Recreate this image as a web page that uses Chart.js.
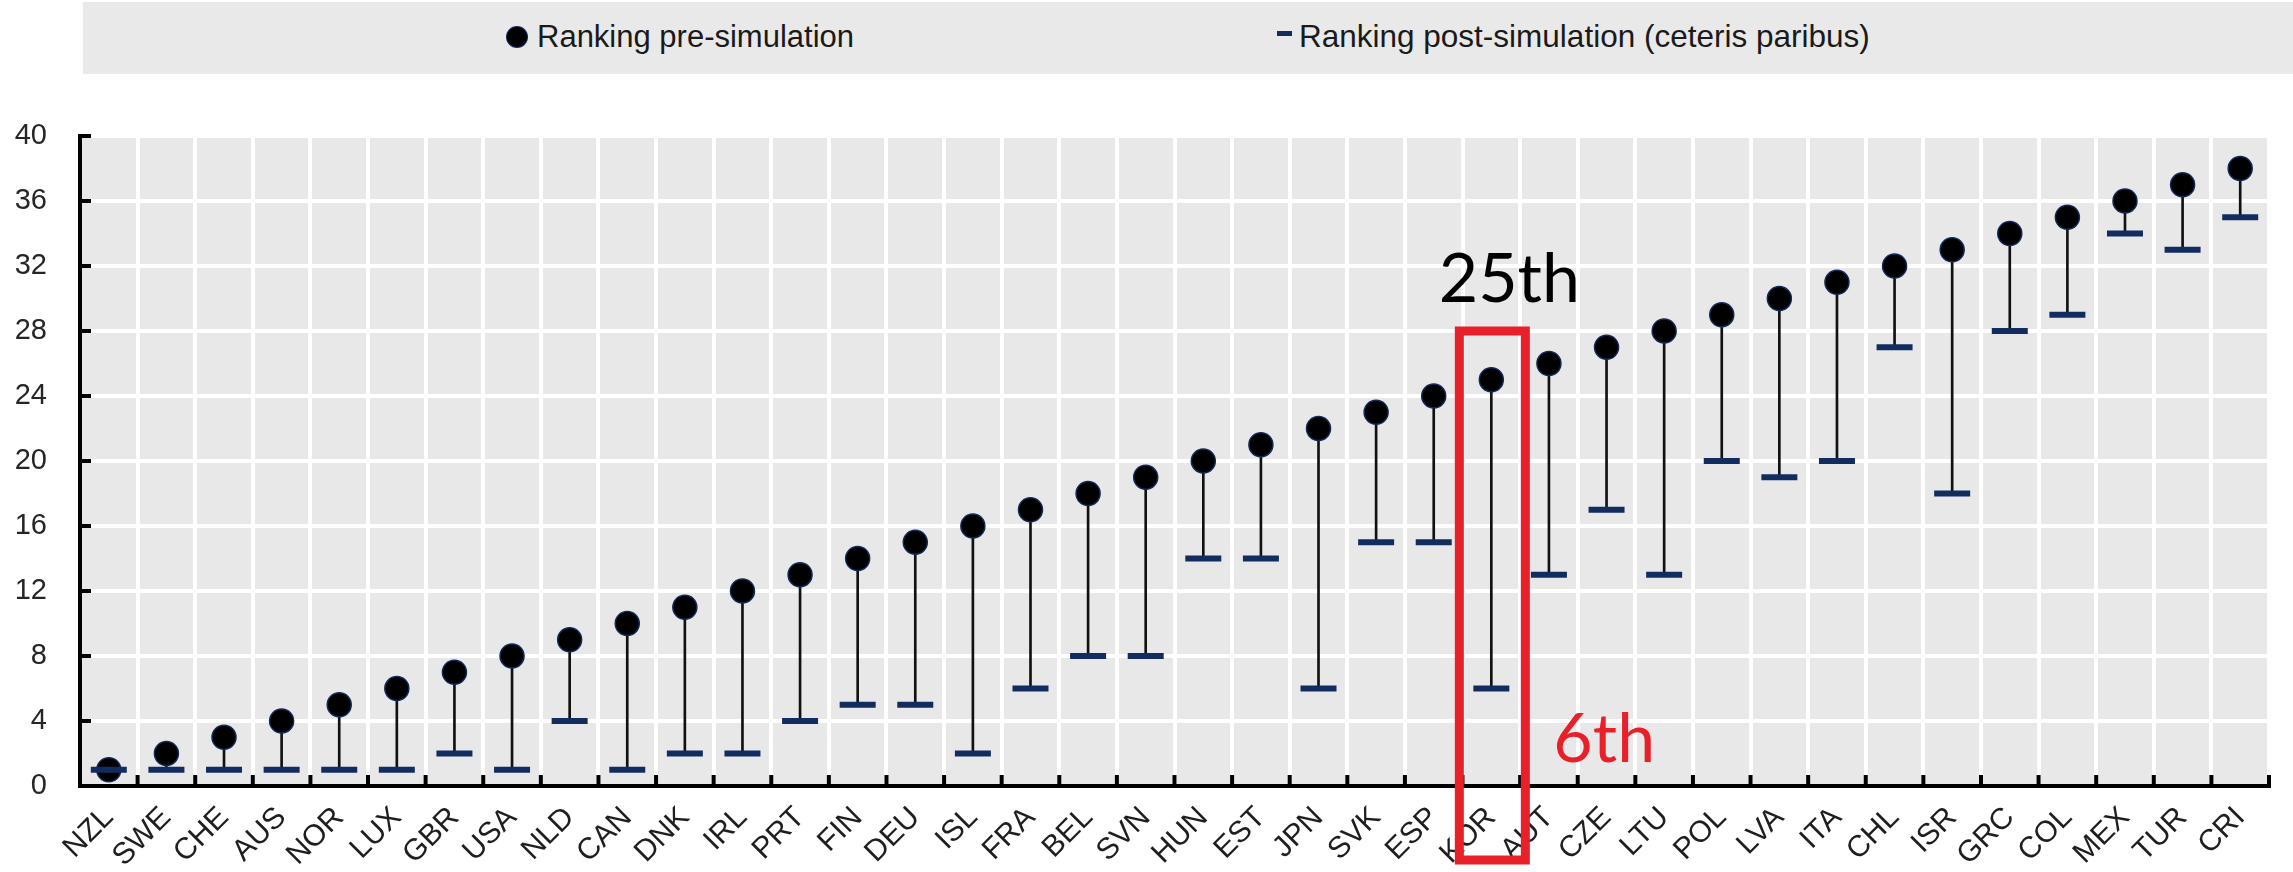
<!DOCTYPE html>
<html>
<head>
<meta charset="utf-8">
<script src="https://cdn.jsdelivr.net/npm/chart.js@4.4.1/dist/chart.umd.min.js"></script>
<style>
    html, body { margin: 0; padding: 0; background: #fff; }
    #contenedor { position: relative; width: 2293px; height: 872px; overflow: hidden; }
    #grafico { position: absolute; left: 0; top: 0; }
    #leyenda {
        position: absolute; left: 83px; top: 2px; width: 2210px; height: 72px;
        background: #e9e9e9; color: #1a1a1a;
        font-family: "Liberation Sans", Arial, sans-serif; font-size: 31px;
    }
    .texto { position: absolute; top: 19px; line-height: 31px; white-space: nowrap; }
    .punto { position: absolute; left: 424px; top: 25px; width: 20px; height: 20px; border-radius: 50%; background: #000; box-shadow: 0 0 0 1px #10295a; }
    .raya { position: absolute; left: 1194px; top: 29px; width: 15px; height: 5px; background: #132c60; }
</style>
</head>
<body>
<div id="contenedor">
    <canvas id="grafico" width="2293" height="872"></canvas>
    <div id="leyenda">
        <span class="punto"></span>
        <span class="texto" style="left: 454px;">Ranking pre-simulation</span>
        <span class="raya"></span>
        <span class="texto" style="left: 1216px; font-size: 31.5px;">Ranking post-simulation (ceteris paribus)</span>
    </div>
</div>
<script>
const paises = ['NZL', 'SWE', 'CHE', 'AUS', 'NOR', 'LUX', 'GBR', 'USA', 'NLD', 'CAN', 'DNK', 'IRL', 'PRT',
    'FIN', 'DEU', 'ISL', 'FRA', 'BEL', 'SVN', 'HUN', 'EST', 'JPN', 'SVK', 'ESP', 'KOR', 'AUT', 'CZE',
    'LTU', 'POL', 'LVA', 'ITA', 'CHL', 'ISR', 'GRC', 'COL', 'MEX', 'TUR', 'CRI'];
const rankingPre = [1, 2, 3, 4, 5, 6, 7, 8, 9, 10, 11, 12, 13, 14, 15, 16, 17, 18, 19, 20, 21, 22, 23, 24, 25,
    26, 27, 28, 29, 30, 31, 32, 33, 34, 35, 36, 37, 38];
const rankingPost = [1, 1, 1, 1, 1, 1, 2, 1, 4, 1, 2, 2, 4, 5, 5, 2, 6, 8, 8, 14, 14, 6, 15, 15, 6,
    13, 17, 13, 20, 19, 20, 27, 18, 28, 29, 34, 33, 35];
const ticksY = [0, 4, 8, 12, 16, 20, 24, 28, 32, 36, 40];

// pais resaltado y sus etiquetas
const paisResaltado = 'KOR';
const etiquetaPre = '25th';
const etiquetaPost = '6th';

Chart.defaults.font.family = '"Liberation Sans", Arial, sans-serif';

// fondo gris del area de trazado
const fondoGris = {
    id: 'fondoGris',
    beforeDraw(chart) {
        const { ctx, chartArea } = chart;
        ctx.save();
        ctx.fillStyle = '#e8e8e8';
        ctx.fillRect(chartArea.left, chartArea.top, chartArea.right - chartArea.left, chartArea.bottom - chartArea.top);
        ctx.restore();
    }
};

// marcas de eje hacia dentro
const marcasInternas = {
    id: 'marcasInternas',
    afterDraw(chart) {
        const { ctx, chartArea, scales: { x, y } } = chart;
        ctx.save();
        ctx.strokeStyle = '#000';
        ctx.lineWidth = 4;
        ticksY.forEach(v => {
            const py = y.getPixelForValue(v);
            ctx.beginPath();
            ctx.moveTo(chartArea.left, py);
            ctx.lineTo(chartArea.left + 11, py);
            ctx.stroke();
        });
        const paso = x.getPixelForValue(1) - x.getPixelForValue(0);
        for (let i = 0; i <= paises.length; i++) {
            const px = x.getPixelForValue(0) - paso / 2 + i * paso;
            ctx.beginPath();
            ctx.moveTo(px, chartArea.bottom);
            ctx.lineTo(px, chartArea.bottom - 11);
            ctx.stroke();
        }
        ctx.restore();
    }
};

// recuadro rojo y textos del pais resaltado
const resaltado = {
    id: 'resaltado',
    afterDraw(chart) {
        const { ctx, chartArea, scales: { x, y } } = chart;
        const i = paises.indexOf(paisResaltado);
        const cx = x.getPixelForValue(i);
        ctx.save();
        ctx.strokeStyle = '#e8202a';
        ctx.lineWidth = 9;
        const arriba = y.getPixelForValue(28);
        const abajo = chartArea.bottom + 74;
        ctx.strokeRect(cx - 32, arriba, 66, abajo - arriba);

        ctx.font = '68px Lato';
        ctx.textBaseline = 'alphabetic';
        ctx.fillStyle = '#000';
        ctx.textAlign = 'center';
        ctx.fillText(etiquetaPre, cx + 18, y.getPixelForValue(29.8));
        ctx.fillStyle = '#e8202a';
        ctx.textAlign = 'left';
        ctx.fillText(etiquetaPost, cx + 62, y.getPixelForValue(1.5));
        ctx.restore();
    }
};

new Chart(document.getElementById('grafico'), {
    type: 'bar',
    data: {
        labels: paises,
        datasets: [{
            type: 'bar',
            label: 'cambio',
            data: paises.map((p, i) => [rankingPost[i], rankingPre[i]]),
            backgroundColor: '#111',
            barThickness: 2,
            order: 3
        }, {
            type: 'line',
            label: 'Ranking pre-simulation',
            data: rankingPre,
            showLine: false,
            pointStyle: 'circle',
            pointRadius: 12,
            pointBackgroundColor: '#000',
            pointBorderColor: '#10295a',
            pointBorderWidth: 1.5,
            order: 2
        }, {
            type: 'line',
            label: 'Ranking post-simulation (ceteris paribus)',
            data: rankingPost,
            showLine: false,
            pointStyle: 'line',
            pointRadius: 18,
            pointBorderColor: '#132c60',
            pointBorderWidth: 6,
            order: 1
        }]
    },
    options: {
        responsive: false,
        devicePixelRatio: 1,
        animation: false,
        events: [],
        layout: { padding: { top: 136, right: 14, left: 0, bottom: 0 } },
        plugins: {
            legend: { display: false },
            tooltip: { enabled: false }
        },
        scales: {
            x: {
                offset: true,
                grid: { color: '#fff', lineWidth: 4, offset: true, drawTicks: false },
                border: { display: true, color: '#000', width: 4 },
                ticks: {
                    color: '#1e1e1e',
                    font: { size: 30 },
                    minRotation: 45,
                    maxRotation: 45,
                    autoSkip: false,
                    padding: 14
                },
                afterFit(scale) { scale.height = 86; }
            },
            y: {
                min: 0,
                max: 40,
                grid: { color: '#fff', lineWidth: 4, drawTicks: false },
                border: { display: true, color: '#000', width: 4 },
                ticks: {
                    stepSize: 4,
                    color: '#262626',
                    font: { size: 29 },
                    padding: 33
                },
                afterFit(scale) { scale.width = 80; }
            }
        }
    },
    plugins: [fondoGris, marcasInternas, resaltado]
});
</script>
</body>
</html>
